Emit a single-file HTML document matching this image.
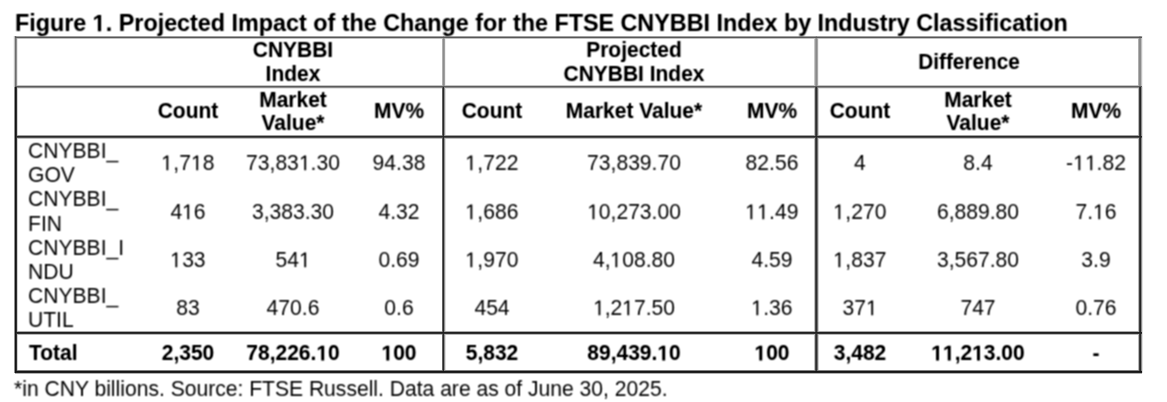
<!DOCTYPE html>
<html><head><meta charset="utf-8"><style>
html,body{margin:0;padding:0;background:#fff;}
body{width:1167px;height:402px;position:relative;overflow:hidden;font-family:"Liberation Sans",sans-serif;color:#000;}
.t{position:absolute;white-space:nowrap;}
.b{font-weight:bold;}
.o{position:relative}
.o>i{color:transparent;font-style:normal}
.o>svg{position:absolute;left:0;top:0;width:0.5562em;height:1.117em;overflow:visible;fill:#000}
.l{position:absolute;mix-blend-mode:darken;}
</style></head><body>
<div class="l" style="left:15px;top:36px;width:1127px;height:1px;background:#a0a0a0"></div>
<div class="l" style="left:15px;top:37px;width:1127px;height:1px;background:#585858"></div>
<div class="l" style="left:15px;top:38px;width:1127px;height:1px;background:#c0c0c0"></div>
<div class="l" style="left:15px;top:85px;width:1127px;height:1px;background:#c4c4c4"></div>
<div class="l" style="left:15px;top:86px;width:1127px;height:1px;background:#5c5c5c"></div>
<div class="l" style="left:15px;top:87px;width:1127px;height:1px;background:#8c8c8c"></div>
<div class="l" style="left:15px;top:88px;width:1127px;height:1px;background:#e4e4e4"></div>
<div class="l" style="left:15px;top:135px;width:1127px;height:1px;background:#a0a0a0"></div>
<div class="l" style="left:15px;top:136px;width:1127px;height:1px;background:#2a2a2a"></div>
<div class="l" style="left:15px;top:137px;width:1127px;height:1px;background:#505050"></div>
<div class="l" style="left:15px;top:138px;width:1127px;height:1px;background:#c0c0c0"></div>
<div class="l" style="left:15px;top:331px;width:1127px;height:1px;background:#a8a8a8"></div>
<div class="l" style="left:15px;top:332px;width:1127px;height:1px;background:#202020"></div>
<div class="l" style="left:15px;top:333px;width:1127px;height:1px;background:#303030"></div>
<div class="l" style="left:15px;top:334px;width:1127px;height:1px;background:#b8b8b8"></div>
<div class="l" style="left:15px;top:370px;width:1127px;height:1px;background:#808080"></div>
<div class="l" style="left:15px;top:371px;width:1127px;height:1px;background:#151515"></div>
<div class="l" style="left:15px;top:372px;width:1127px;height:1px;background:#202020"></div>
<div class="l" style="left:15px;top:373px;width:1127px;height:1px;background:#b0b0b0"></div>
<div class="l" style="left:13px;top:36px;width:1px;height:51px;background:#f4f4f4"></div>
<div class="l" style="left:14px;top:36px;width:1px;height:51px;background:#c0c0c0"></div>
<div class="l" style="left:15px;top:36px;width:1px;height:51px;background:#6c6c6c"></div>
<div class="l" style="left:16px;top:36px;width:1px;height:51px;background:#909090"></div>
<div class="l" style="left:17px;top:36px;width:1px;height:51px;background:#e8e8e8"></div>
<div class="l" style="left:14px;top:87px;width:1px;height:286px;background:#909090"></div>
<div class="l" style="left:15px;top:87px;width:1px;height:286px;background:#121212"></div>
<div class="l" style="left:16px;top:87px;width:1px;height:286px;background:#303030"></div>
<div class="l" style="left:17px;top:87px;width:1px;height:286px;background:#d0d0d0"></div>
<div class="l" style="left:442px;top:36px;width:1px;height:51px;background:#b0b0b0"></div>
<div class="l" style="left:443px;top:36px;width:1px;height:51px;background:#8c8c8c"></div>
<div class="l" style="left:444px;top:36px;width:1px;height:51px;background:#a0a0a0"></div>
<div class="l" style="left:445px;top:36px;width:1px;height:51px;background:#f0f0f0"></div>
<div class="l" style="left:442px;top:87px;width:1px;height:286px;background:#606060"></div>
<div class="l" style="left:443px;top:87px;width:1px;height:286px;background:#282828"></div>
<div class="l" style="left:444px;top:87px;width:1px;height:286px;background:#909090"></div>
<div class="l" style="left:445px;top:87px;width:1px;height:286px;background:#e0e0e0"></div>
<div class="l" style="left:814px;top:36px;width:1px;height:51px;background:#c8c8c8"></div>
<div class="l" style="left:815px;top:36px;width:1px;height:51px;background:#9a9a9a"></div>
<div class="l" style="left:816px;top:36px;width:1px;height:51px;background:#888888"></div>
<div class="l" style="left:817px;top:36px;width:1px;height:51px;background:#a8a8a8"></div>
<div class="l" style="left:818px;top:36px;width:1px;height:51px;background:#f0f0f0"></div>
<div class="l" style="left:814px;top:87px;width:1px;height:286px;background:#c0c0c0"></div>
<div class="l" style="left:815px;top:87px;width:1px;height:286px;background:#4a4a4a"></div>
<div class="l" style="left:816px;top:87px;width:1px;height:286px;background:#2c2c2c"></div>
<div class="l" style="left:817px;top:87px;width:1px;height:286px;background:#707070"></div>
<div class="l" style="left:818px;top:87px;width:1px;height:286px;background:#d0d0d0"></div>
<div class="l" style="left:1138px;top:36px;width:1px;height:51px;background:#b0b0b0"></div>
<div class="l" style="left:1139px;top:36px;width:1px;height:51px;background:#8a8a8a"></div>
<div class="l" style="left:1140px;top:36px;width:1px;height:51px;background:#8c8c8c"></div>
<div class="l" style="left:1141px;top:36px;width:1px;height:51px;background:#c0c0c0"></div>
<div class="l" style="left:1142px;top:36px;width:1px;height:51px;background:#f0f0f0"></div>
<div class="l" style="left:1138px;top:87px;width:1px;height:286px;background:#b8b8b8"></div>
<div class="l" style="left:1139px;top:87px;width:1px;height:286px;background:#3c3c3c"></div>
<div class="l" style="left:1140px;top:87px;width:1px;height:286px;background:#242424"></div>
<div class="l" style="left:1141px;top:87px;width:1px;height:286px;background:#8a8a8a"></div>
<div class="l" style="left:1142px;top:87px;width:1px;height:286px;background:#e0e0e0"></div>
<svg width="0" height="0" style="position:absolute"><filter id="soft" x="0" y="0" width="1167" height="402" filterUnits="userSpaceOnUse"><feConvolveMatrix order="3" kernelMatrix="1 2 1 2 4 2 1 2 1" divisor="16" preserveAlpha="false"/></filter><filter id="softb" x="0" y="0" width="1167" height="402" filterUnits="userSpaceOnUse"><feConvolveMatrix order="3" kernelMatrix="1 2 1 2 4 2 1 2 1" divisor="15" preserveAlpha="false"/></filter></svg>
<div id="txt" style="position:absolute;left:0;top:0;width:1167px;height:402px;filter:url(#soft)">
<div class="t" style="left:14.40px;top:375.72px;width:300px;font-size:21.3px;line-height:26px;text-align:left;transform:scaleX(0.99);transform-origin:left top">*in CNY billions. Source: FTSE Russell. Data are as of June 30, 2025.</div>
<div class="t" style="left:27.90px;top:137.55px;width:300px;font-size:21.2px;line-height:25px;text-align:left;transform:scaleX(0.995);transform-origin:left top">CNYBBI_</div>
<div class="t" style="left:27.90px;top:161.55px;width:300px;font-size:21.2px;line-height:25px;text-align:left;transform:scaleX(0.995);transform-origin:left top">GOV</div>
<div class="t" style="left:37.50px;top:149.55px;width:300px;font-size:21.2px;line-height:25px;text-align:center;transform:scaleX(0.995);transform-origin:center top"><span class="o"><i>1</i><svg viewBox="0 -1854 1139 2288"><path d="M515 0L515 -1237L197 -1010L197 -1180L530 -1409L696 -1409L696 0Z"/></svg></span>,7<span class="o"><i>1</i><svg viewBox="0 -1854 1139 2288"><path d="M515 0L515 -1237L197 -1010L197 -1180L530 -1409L696 -1409L696 0Z"/></svg></span>8</div>
<div class="t" style="left:143.30px;top:149.55px;width:300px;font-size:21.2px;line-height:25px;text-align:center;transform:scaleX(0.995);transform-origin:center top">73,83<span class="o"><i>1</i><svg viewBox="0 -1854 1139 2288"><path d="M515 0L515 -1237L197 -1010L197 -1180L530 -1409L696 -1409L696 0Z"/></svg></span>.30</div>
<div class="t" style="left:249.30px;top:149.55px;width:300px;font-size:21.2px;line-height:25px;text-align:center;transform:scaleX(0.995);transform-origin:center top">94.38</div>
<div class="t" style="left:341.90px;top:149.55px;width:300px;font-size:21.2px;line-height:25px;text-align:center;transform:scaleX(0.995);transform-origin:center top"><span class="o"><i>1</i><svg viewBox="0 -1854 1139 2288"><path d="M515 0L515 -1237L197 -1010L197 -1180L530 -1409L696 -1409L696 0Z"/></svg></span>,722</div>
<div class="t" style="left:483.80px;top:149.55px;width:300px;font-size:21.2px;line-height:25px;text-align:center;transform:scaleX(0.995);transform-origin:center top">73,839.70</div>
<div class="t" style="left:622.00px;top:149.55px;width:300px;font-size:21.2px;line-height:25px;text-align:center;transform:scaleX(0.995);transform-origin:center top">82.56</div>
<div class="t" style="left:710.30px;top:149.55px;width:300px;font-size:21.2px;line-height:25px;text-align:center;transform:scaleX(0.995);transform-origin:center top">4</div>
<div class="t" style="left:828.00px;top:149.55px;width:300px;font-size:21.2px;line-height:25px;text-align:center;transform:scaleX(0.995);transform-origin:center top">8.4</div>
<div class="t" style="left:946.00px;top:149.55px;width:300px;font-size:21.2px;line-height:25px;text-align:center;transform:scaleX(0.995);transform-origin:center top">-<span class="o"><i>1</i><svg viewBox="0 -1854 1139 2288"><path d="M515 0L515 -1237L197 -1010L197 -1180L530 -1409L696 -1409L696 0Z"/></svg></span><span class="o"><i>1</i><svg viewBox="0 -1854 1139 2288"><path d="M515 0L515 -1237L197 -1010L197 -1180L530 -1409L696 -1409L696 0Z"/></svg></span>.82</div>
<div class="t" style="left:27.90px;top:186.05px;width:300px;font-size:21.2px;line-height:25px;text-align:left;transform:scaleX(0.995);transform-origin:left top">CNYBBI_</div>
<div class="t" style="left:27.90px;top:210.75px;width:300px;font-size:21.2px;line-height:25px;text-align:left;transform:scaleX(0.995);transform-origin:left top">FIN</div>
<div class="t" style="left:37.50px;top:198.85px;width:300px;font-size:21.2px;line-height:25px;text-align:center;transform:scaleX(0.995);transform-origin:center top">4<span class="o"><i>1</i><svg viewBox="0 -1854 1139 2288"><path d="M515 0L515 -1237L197 -1010L197 -1180L530 -1409L696 -1409L696 0Z"/></svg></span>6</div>
<div class="t" style="left:143.30px;top:198.85px;width:300px;font-size:21.2px;line-height:25px;text-align:center;transform:scaleX(0.995);transform-origin:center top">3,383.30</div>
<div class="t" style="left:249.30px;top:198.85px;width:300px;font-size:21.2px;line-height:25px;text-align:center;transform:scaleX(0.995);transform-origin:center top">4.32</div>
<div class="t" style="left:341.90px;top:198.85px;width:300px;font-size:21.2px;line-height:25px;text-align:center;transform:scaleX(0.995);transform-origin:center top"><span class="o"><i>1</i><svg viewBox="0 -1854 1139 2288"><path d="M515 0L515 -1237L197 -1010L197 -1180L530 -1409L696 -1409L696 0Z"/></svg></span>,686</div>
<div class="t" style="left:483.80px;top:198.85px;width:300px;font-size:21.2px;line-height:25px;text-align:center;transform:scaleX(0.995);transform-origin:center top"><span class="o"><i>1</i><svg viewBox="0 -1854 1139 2288"><path d="M515 0L515 -1237L197 -1010L197 -1180L530 -1409L696 -1409L696 0Z"/></svg></span>0,273.00</div>
<div class="t" style="left:622.00px;top:198.85px;width:300px;font-size:21.2px;line-height:25px;text-align:center;transform:scaleX(0.995);transform-origin:center top"><span class="o"><i>1</i><svg viewBox="0 -1854 1139 2288"><path d="M515 0L515 -1237L197 -1010L197 -1180L530 -1409L696 -1409L696 0Z"/></svg></span><span class="o"><i>1</i><svg viewBox="0 -1854 1139 2288"><path d="M515 0L515 -1237L197 -1010L197 -1180L530 -1409L696 -1409L696 0Z"/></svg></span>.49</div>
<div class="t" style="left:710.30px;top:198.85px;width:300px;font-size:21.2px;line-height:25px;text-align:center;transform:scaleX(0.995);transform-origin:center top"><span class="o"><i>1</i><svg viewBox="0 -1854 1139 2288"><path d="M515 0L515 -1237L197 -1010L197 -1180L530 -1409L696 -1409L696 0Z"/></svg></span>,270</div>
<div class="t" style="left:828.00px;top:198.85px;width:300px;font-size:21.2px;line-height:25px;text-align:center;transform:scaleX(0.995);transform-origin:center top">6,889.80</div>
<div class="t" style="left:946.00px;top:198.85px;width:300px;font-size:21.2px;line-height:25px;text-align:center;transform:scaleX(0.995);transform-origin:center top">7.<span class="o"><i>1</i><svg viewBox="0 -1854 1139 2288"><path d="M515 0L515 -1237L197 -1010L197 -1180L530 -1409L696 -1409L696 0Z"/></svg></span>6</div>
<div class="t" style="left:27.90px;top:234.75px;width:300px;font-size:21.2px;line-height:25px;text-align:left;transform:scaleX(0.995);transform-origin:left top">CNYBBI_I</div>
<div class="t" style="left:27.90px;top:258.85px;width:300px;font-size:21.2px;line-height:25px;text-align:left;transform:scaleX(0.995);transform-origin:left top">NDU</div>
<div class="t" style="left:37.50px;top:246.95px;width:300px;font-size:21.2px;line-height:25px;text-align:center;transform:scaleX(0.995);transform-origin:center top"><span class="o"><i>1</i><svg viewBox="0 -1854 1139 2288"><path d="M515 0L515 -1237L197 -1010L197 -1180L530 -1409L696 -1409L696 0Z"/></svg></span>33</div>
<div class="t" style="left:143.30px;top:246.95px;width:300px;font-size:21.2px;line-height:25px;text-align:center;transform:scaleX(0.995);transform-origin:center top">54<span class="o"><i>1</i><svg viewBox="0 -1854 1139 2288"><path d="M515 0L515 -1237L197 -1010L197 -1180L530 -1409L696 -1409L696 0Z"/></svg></span></div>
<div class="t" style="left:249.30px;top:246.95px;width:300px;font-size:21.2px;line-height:25px;text-align:center;transform:scaleX(0.995);transform-origin:center top">0.69</div>
<div class="t" style="left:341.90px;top:246.95px;width:300px;font-size:21.2px;line-height:25px;text-align:center;transform:scaleX(0.995);transform-origin:center top"><span class="o"><i>1</i><svg viewBox="0 -1854 1139 2288"><path d="M515 0L515 -1237L197 -1010L197 -1180L530 -1409L696 -1409L696 0Z"/></svg></span>,970</div>
<div class="t" style="left:483.80px;top:246.95px;width:300px;font-size:21.2px;line-height:25px;text-align:center;transform:scaleX(0.995);transform-origin:center top">4,<span class="o"><i>1</i><svg viewBox="0 -1854 1139 2288"><path d="M515 0L515 -1237L197 -1010L197 -1180L530 -1409L696 -1409L696 0Z"/></svg></span>08.80</div>
<div class="t" style="left:622.00px;top:246.95px;width:300px;font-size:21.2px;line-height:25px;text-align:center;transform:scaleX(0.995);transform-origin:center top">4.59</div>
<div class="t" style="left:710.30px;top:246.95px;width:300px;font-size:21.2px;line-height:25px;text-align:center;transform:scaleX(0.995);transform-origin:center top"><span class="o"><i>1</i><svg viewBox="0 -1854 1139 2288"><path d="M515 0L515 -1237L197 -1010L197 -1180L530 -1409L696 -1409L696 0Z"/></svg></span>,837</div>
<div class="t" style="left:828.00px;top:246.95px;width:300px;font-size:21.2px;line-height:25px;text-align:center;transform:scaleX(0.995);transform-origin:center top">3,567.80</div>
<div class="t" style="left:946.00px;top:246.95px;width:300px;font-size:21.2px;line-height:25px;text-align:center;transform:scaleX(0.995);transform-origin:center top">3.9</div>
<div class="t" style="left:27.90px;top:282.65px;width:300px;font-size:21.2px;line-height:25px;text-align:left;transform:scaleX(0.995);transform-origin:left top">CNYBBI_</div>
<div class="t" style="left:27.90px;top:306.55px;width:300px;font-size:21.2px;line-height:25px;text-align:left;transform:scaleX(0.995);transform-origin:left top">UTIL</div>
<div class="t" style="left:37.50px;top:295.25px;width:300px;font-size:21.2px;line-height:25px;text-align:center;transform:scaleX(0.995);transform-origin:center top">83</div>
<div class="t" style="left:143.30px;top:295.25px;width:300px;font-size:21.2px;line-height:25px;text-align:center;transform:scaleX(0.995);transform-origin:center top">470.6</div>
<div class="t" style="left:249.30px;top:295.25px;width:300px;font-size:21.2px;line-height:25px;text-align:center;transform:scaleX(0.995);transform-origin:center top">0.6</div>
<div class="t" style="left:341.90px;top:295.25px;width:300px;font-size:21.2px;line-height:25px;text-align:center;transform:scaleX(0.995);transform-origin:center top">454</div>
<div class="t" style="left:483.80px;top:295.25px;width:300px;font-size:21.2px;line-height:25px;text-align:center;transform:scaleX(0.995);transform-origin:center top"><span class="o"><i>1</i><svg viewBox="0 -1854 1139 2288"><path d="M515 0L515 -1237L197 -1010L197 -1180L530 -1409L696 -1409L696 0Z"/></svg></span>,2<span class="o"><i>1</i><svg viewBox="0 -1854 1139 2288"><path d="M515 0L515 -1237L197 -1010L197 -1180L530 -1409L696 -1409L696 0Z"/></svg></span>7.50</div>
<div class="t" style="left:622.00px;top:295.25px;width:300px;font-size:21.2px;line-height:25px;text-align:center;transform:scaleX(0.995);transform-origin:center top"><span class="o"><i>1</i><svg viewBox="0 -1854 1139 2288"><path d="M515 0L515 -1237L197 -1010L197 -1180L530 -1409L696 -1409L696 0Z"/></svg></span>.36</div>
<div class="t" style="left:710.30px;top:295.25px;width:300px;font-size:21.2px;line-height:25px;text-align:center;transform:scaleX(0.995);transform-origin:center top">37<span class="o"><i>1</i><svg viewBox="0 -1854 1139 2288"><path d="M515 0L515 -1237L197 -1010L197 -1180L530 -1409L696 -1409L696 0Z"/></svg></span></div>
<div class="t" style="left:828.00px;top:295.25px;width:300px;font-size:21.2px;line-height:25px;text-align:center;transform:scaleX(0.995);transform-origin:center top">747</div>
<div class="t" style="left:946.00px;top:295.25px;width:300px;font-size:21.2px;line-height:25px;text-align:center;transform:scaleX(0.995);transform-origin:center top">0.76</div>
</div>
<div id="txtb" style="position:absolute;left:0;top:0;width:1167px;height:402px;filter:url(#softb)">
<div class="t b" style="left:15.00px;top:8.66px;width:300px;font-size:23.5px;line-height:28px;text-align:left;transform:scaleX(0.993);transform-origin:left top">Figure <span class="o"><i>1</i><svg viewBox="0 -1854 1139 2288"><path d="M478 0L478 -1170L140 -959L140 -1180L493 -1409L759 -1409L759 0Z"/></svg></span>. Projected Impact of the Change for the FTSE CNYBBI Index by Industry Classification</div>
<div class="t b" style="left:143.30px;top:37.15px;width:300px;font-size:21.5px;line-height:26px;text-align:center;transform:scaleX(0.975);transform-origin:center top">CNYBBI</div>
<div class="t b" style="left:143.30px;top:61.15px;width:300px;font-size:21.5px;line-height:26px;text-align:center;transform:scaleX(0.975);transform-origin:center top">Index</div>
<div class="t b" style="left:483.80px;top:37.15px;width:300px;font-size:21.5px;line-height:26px;text-align:center;transform:scaleX(0.975);transform-origin:center top">Projected</div>
<div class="t b" style="left:483.80px;top:61.15px;width:300px;font-size:21.5px;line-height:26px;text-align:center;transform:scaleX(0.975);transform-origin:center top">CNYBBI Index</div>
<div class="t b" style="left:818.50px;top:49.15px;width:300px;font-size:21.5px;line-height:26px;text-align:center;transform:scaleX(0.965);transform-origin:center top">Difference</div>
<div class="t b" style="left:37.50px;top:98.35px;width:300px;font-size:21.5px;line-height:26px;text-align:center;transform:scaleX(0.975);transform-origin:center top">Count</div>
<div class="t b" style="left:143.30px;top:86.75px;width:300px;font-size:21.5px;line-height:26px;text-align:center;transform:scaleX(0.975);transform-origin:center top">Market</div>
<div class="t b" style="left:143.30px;top:110.05px;width:300px;font-size:21.5px;line-height:26px;text-align:center;transform:scaleX(0.975);transform-origin:center top">Value*</div>
<div class="t b" style="left:249.30px;top:98.35px;width:300px;font-size:21.5px;line-height:26px;text-align:center;transform:scaleX(0.975);transform-origin:center top">MV%</div>
<div class="t b" style="left:341.90px;top:98.35px;width:300px;font-size:21.5px;line-height:26px;text-align:center;transform:scaleX(0.975);transform-origin:center top">Count</div>
<div class="t b" style="left:483.80px;top:98.35px;width:300px;font-size:21.5px;line-height:26px;text-align:center;transform:scaleX(0.975);transform-origin:center top">Market Value*</div>
<div class="t b" style="left:622.00px;top:98.35px;width:300px;font-size:21.5px;line-height:26px;text-align:center;transform:scaleX(0.975);transform-origin:center top">MV%</div>
<div class="t b" style="left:710.30px;top:98.35px;width:300px;font-size:21.5px;line-height:26px;text-align:center;transform:scaleX(0.975);transform-origin:center top">Count</div>
<div class="t b" style="left:828.00px;top:86.75px;width:300px;font-size:21.5px;line-height:26px;text-align:center;transform:scaleX(0.975);transform-origin:center top">Market</div>
<div class="t b" style="left:828.00px;top:110.05px;width:300px;font-size:21.5px;line-height:26px;text-align:center;transform:scaleX(0.975);transform-origin:center top">Value*</div>
<div class="t b" style="left:946.00px;top:98.35px;width:300px;font-size:21.5px;line-height:26px;text-align:center;transform:scaleX(0.975);transform-origin:center top">MV%</div>
<div class="t b" style="left:28.50px;top:339.55px;width:300px;font-size:21.5px;line-height:26px;text-align:left;transform:scaleX(0.975);transform-origin:left top">Total</div>
<div class="t b" style="left:37.50px;top:339.55px;width:300px;font-size:21.5px;line-height:26px;text-align:center;transform:scaleX(0.975);transform-origin:center top">2,350</div>
<div class="t b" style="left:143.30px;top:339.55px;width:300px;font-size:21.5px;line-height:26px;text-align:center;transform:scaleX(0.975);transform-origin:center top">78,226.<span class="o"><i>1</i><svg viewBox="0 -1854 1139 2288"><path d="M478 0L478 -1170L140 -959L140 -1180L493 -1409L759 -1409L759 0Z"/></svg></span>0</div>
<div class="t b" style="left:249.30px;top:339.55px;width:300px;font-size:21.5px;line-height:26px;text-align:center;transform:scaleX(0.975);transform-origin:center top"><span class="o"><i>1</i><svg viewBox="0 -1854 1139 2288"><path d="M478 0L478 -1170L140 -959L140 -1180L493 -1409L759 -1409L759 0Z"/></svg></span>00</div>
<div class="t b" style="left:341.90px;top:339.55px;width:300px;font-size:21.5px;line-height:26px;text-align:center;transform:scaleX(0.975);transform-origin:center top">5,832</div>
<div class="t b" style="left:483.80px;top:339.55px;width:300px;font-size:21.5px;line-height:26px;text-align:center;transform:scaleX(0.975);transform-origin:center top">89,439.<span class="o"><i>1</i><svg viewBox="0 -1854 1139 2288"><path d="M478 0L478 -1170L140 -959L140 -1180L493 -1409L759 -1409L759 0Z"/></svg></span>0</div>
<div class="t b" style="left:622.00px;top:339.55px;width:300px;font-size:21.5px;line-height:26px;text-align:center;transform:scaleX(0.975);transform-origin:center top"><span class="o"><i>1</i><svg viewBox="0 -1854 1139 2288"><path d="M478 0L478 -1170L140 -959L140 -1180L493 -1409L759 -1409L759 0Z"/></svg></span>00</div>
<div class="t b" style="left:710.30px;top:339.55px;width:300px;font-size:21.5px;line-height:26px;text-align:center;transform:scaleX(0.975);transform-origin:center top">3,482</div>
<div class="t b" style="left:828.00px;top:339.55px;width:300px;font-size:21.5px;line-height:26px;text-align:center;transform:scaleX(0.975);transform-origin:center top"><span class="o"><i>1</i><svg viewBox="0 -1854 1139 2288"><path d="M478 0L478 -1170L140 -959L140 -1180L493 -1409L759 -1409L759 0Z"/></svg></span><span class="o"><i>1</i><svg viewBox="0 -1854 1139 2288"><path d="M478 0L478 -1170L140 -959L140 -1180L493 -1409L759 -1409L759 0Z"/></svg></span>,2<span class="o"><i>1</i><svg viewBox="0 -1854 1139 2288"><path d="M478 0L478 -1170L140 -959L140 -1180L493 -1409L759 -1409L759 0Z"/></svg></span>3.00</div>
<div class="t b" style="left:946.00px;top:339.55px;width:300px;font-size:21.5px;line-height:26px;text-align:center;transform:scaleX(0.975);transform-origin:center top">-</div>
</div>
</body></html>
